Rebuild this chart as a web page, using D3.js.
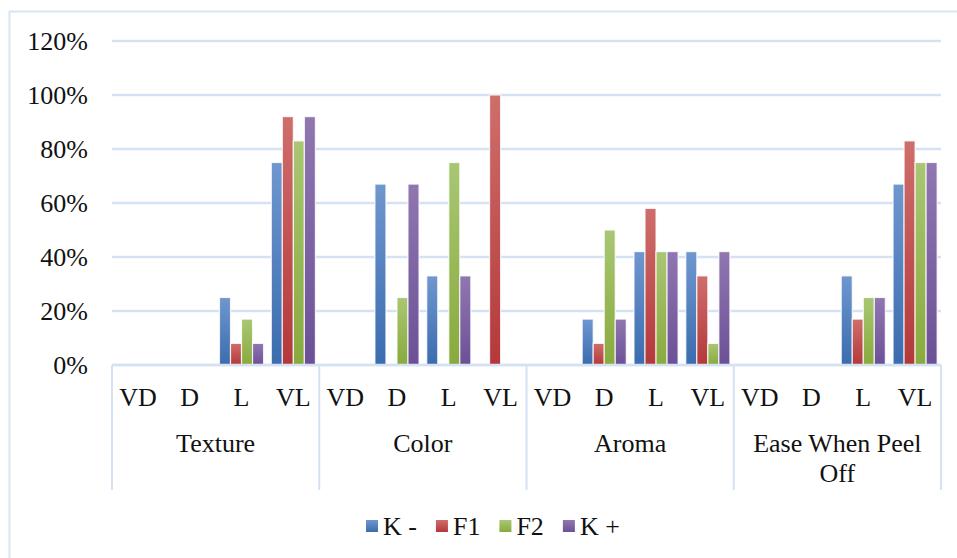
<!DOCTYPE html>
<html>
<head>
<meta charset="utf-8">
<script src="https://cdn.jsdelivr.net/npm/d3@7/dist/d3.min.js"></script>
</head>
<body style="margin:0">
<svg id="chart" width="957" height="558" font-family="Liberation Serif" style="font-family:'Liberation Serif'"></svg>
<script>
// ---- data ----
const groups = ["Texture", "Color", "Aroma", "Ease When Peel Off"];
const groupLines = [["Texture"], ["Color"], ["Aroma"], ["Ease When Peel", "Off"]];
const subs = ["VD", "D", "L", "VL"];
const series = ["K -", "F1", "F2", "K +"];
// values per series: [group][sub]
const valsKminus = [[0, 0, 0.25, 0.75], [0, 0.67, 0.33, 0], [0, 0.17, 0.42, 0.42], [0, 0, 0.33, 0.67]];
const valsF1     = [[0, 0, 0.08, 0.92], [0, 0, 0, 1.00],    [0, 0.08, 0.58, 0.33], [0, 0, 0.17, 0.83]];
const valsF2     = [[0, 0, 0.17, 0.83], [0, 0.25, 0.75, 0], [0, 0.50, 0.42, 0.08], [0, 0, 0.25, 0.75]];
const valsKplus  = [[0, 0, 0.08, 0.92], [0, 0.67, 0.33, 0], [0, 0.17, 0.42, 0.42], [0, 0, 0.25, 0.75]];
const seriesVals = [valsKminus, valsF1, valsF2, valsKplus];
const yTicks = [0, 0.2, 0.4, 0.6, 0.8, 1.0, 1.2];
const colorsTop = ["#6f97cf", "#cf6e6c", "#a9c774", "#9077b0"];
const colorsBot = ["#3a6cae", "#b4383a", "#88aa3d", "#6c5097"];

// ---- layout ----
const FONT = "Liberation Serif";
const FS = 26;
const svg = d3.select("#chart");
const L = 112, R = 941, T = 41, B = 365;
const gridColor = "#d5e2f3";

function styleText(sel) {
  return sel.attr("font-family", FONT).style("font-family", "'" + FONT + "'")
    .attr("font-size", FS).style("font-size", FS + "px").attr("fill", "#111");
}

// outer border
svg.append("rect").attr("x", 9.5).attr("y", 11.5).attr("width", 1000).attr("height", 600)
  .attr("fill", "none").attr("stroke", "#d9e5f5").attr("stroke-width", 2);

const y = d3.scaleLinear().domain([0, 1.2]).range([B, T]);
const xG = d3.scaleBand().domain(groups).range([L, R]).padding(0);
const xS = d3.scaleBand().domain(subs).range([0, xG.bandwidth()]).padding(0);
const xB = d3.scaleBand().domain(series).range([0, xS.bandwidth()]).paddingInner(0).paddingOuter(0.35);

// gradients
const defs = svg.append("defs");
series.forEach((s, i) => {
  const g = defs.append("linearGradient").attr("id", "grad" + i)
    .attr("x1", 0).attr("y1", 0).attr("x2", 0).attr("y2", 1);
  g.append("stop").attr("offset", "0%").attr("stop-color", colorsTop[i]);
  g.append("stop").attr("offset", "100%").attr("stop-color", colorsBot[i]);
});

// gridlines
svg.append("g").selectAll("line").data(yTicks).join("line")
  .attr("x1", L).attr("x2", R)
  .attr("y1", d => y(d)).attr("y2", d => y(d))
  .attr("stroke", gridColor).attr("stroke-width", 2.5);

// y axis labels
const yAxis = d3.axisLeft(y).tickValues(yTicks).tickFormat(d3.format(".0%")).tickSize(0).tickPadding(0);
const ya = svg.append("g").attr("transform", "translate(88,0)").call(yAxis);
ya.attr("font-family", FONT).attr("font-size", FS);
ya.select(".domain").remove();
styleText(ya.selectAll("text")).attr("dy", "0.33em");

// bars
const barData = [];
groups.forEach((g, gi) => subs.forEach((s, si) => series.forEach((se, ki) => {
  barData.push({ g, s, se, ki, v: seriesVals[ki][gi][si] });
})));
svg.append("g").selectAll("rect").data(barData.filter(d => d.v > 0)).join("rect")
  .attr("x", d => xG(d.g) + xS(d.s) + xB(d.se))
  .attr("width", xB.bandwidth())
  .attr("y", d => y(d.v))
  .attr("height", d => y(0) - y(d.v))
  .attr("fill", d => "url(#grad" + d.ki + ")")
  .attr("stroke", "#fff").attr("stroke-width", 1.2).attr("stroke-opacity", 0.8);

// category axis lines
svg.append("line").attr("x1", L).attr("x2", R).attr("y1", B).attr("y2", B)
  .attr("stroke", gridColor).attr("stroke-width", 2.5);
const dividers = groups.map(g => xG(g)).concat([R]);
svg.append("g").selectAll("line").data(dividers).join("line")
  .attr("x1", d => d).attr("x2", d => d).attr("y1", B).attr("y2", 490)
  .attr("stroke", gridColor).attr("stroke-width", 2);

// sub labels
const subLab = [];
groups.forEach(g => subs.forEach(s => subLab.push({ g, s })));
styleText(svg.append("g").selectAll("text").data(subLab).join("text")
  .attr("x", d => xG(d.g) + xS(d.s) + xS.bandwidth() / 2)
  .attr("y", 397).attr("dy", "0.35em")
  .attr("text-anchor", "middle"))
  .text(d => d.s);

// group labels
const gl = styleText(svg.append("g").selectAll("text").data(groups).join("text")
  .attr("x", d => xG(d) + xG.bandwidth() / 2)
  .attr("y", 443)
  .attr("text-anchor", "middle"));
gl.each(function (d, i) {
  const t = d3.select(this);
  groupLines[i].forEach((line, li) => {
    t.append("tspan").attr("x", xG(d) + xG.bandwidth() / 2).attr("dy", li === 0 ? "0.35em" : "30px").text(line);
  });
});

// legend
const leg = svg.append("g");
let lx = 366;
series.forEach((s, i) => {
  leg.append("rect").attr("x", lx).attr("y", 520).attr("width", 12).attr("height", 12)
    .attr("fill", "url(#grad" + i + ")");
  const t = styleText(leg.append("text").attr("x", lx + 17).attr("y", 526).attr("dy", "0.35em")).text(s);
  lx = lx + 17 + t.node().getComputedTextLength() + 19;
});
</script>
</body>
</html>
